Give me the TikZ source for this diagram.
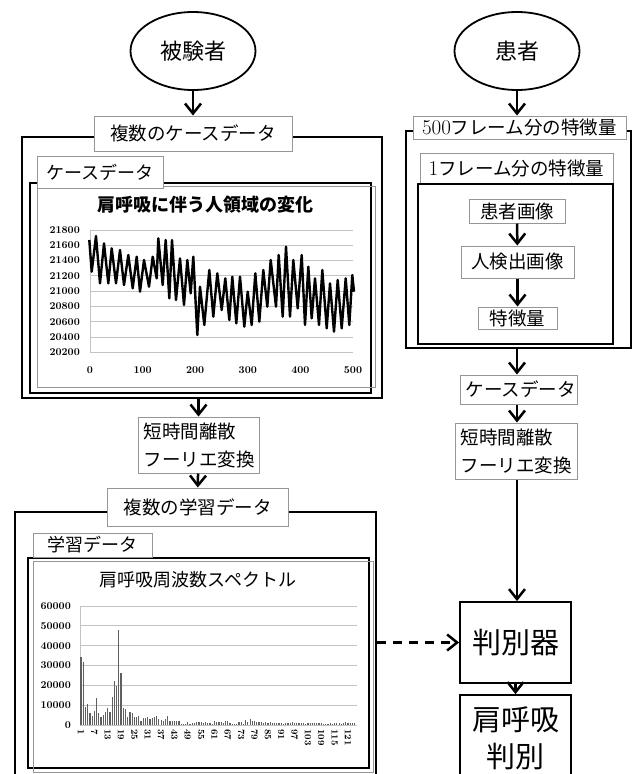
\documentclass[tikz,border=0pt]{standalone}
\usepackage{fontspec}
\usepackage{tikz}
\usetikzlibrary{arrows.meta,shapes.geometric}
\newfontfamily\jpfont{Noto Sans CJK JP}
\newcommand\jpsize[2]{\jpfont\fontsize{#1}{#2}\selectfont}
\newcommand\numsize[1]{\rmfamily\bfseries\fontsize{#1}{#1}\selectfont}
\definecolor{boxgray}{RGB}{150,150,150}
\definecolor{gridgray}{RGB}{195,195,195}
\definecolor{bargray}{RGB}{95,95,95}

\begin{document}
\begin{tikzpicture}[x=1pt,y=1pt,yscale=-1,xscale=1,
  ell/.style={ellipse, draw, line width=1.8pt, minimum width=125pt, minimum height=78pt, inner sep=0pt, font=\jpsize{22}{26}},
  lbl/.style={draw=boxgray, line width=1pt, fill=white, inner sep=0pt, font=\jpsize{18.5}{28}},
  frm/.style={draw, line width=2.5pt, inner sep=0pt},
  dec/.style={draw, line width=1.8pt, fill=white, inner sep=0pt, font=\jpsize{29}{37}},
  arr/.style={line width=2.5pt, -{Straight Barb[length=10pt,width=16pt]}},
  gridline/.style={draw=gridgray, line width=0.9pt},
  ylab/.style={anchor=east, inner sep=0pt, font=\numsize{10.5}},
  xlab/.style={anchor=center, inner sep=0pt, font=\numsize{10.5}},
  xlabr/.style={rotate=-90, anchor=west, inner sep=0pt, font=\numsize{9.5}},
  datal/.style={line width=2.4pt, line join=round},
  barl/.style={draw=bargray, line width=1.2pt}]
\useasboundingbox (0,0) rectangle (638,774);
\clip (0,0) rectangle (638,774);

%% left column
\node[ell] (subj) at (193,51) {被験者};
\node[frm, minimum width=360pt, minimum height=261pt] (caseframe) at (202,267.5) {};
\node[lbl, minimum width=198pt, minimum height=35pt] (multicase) at (193,133.5) {複数のケースデータ};

% chart: area change
\draw[line width=1.8pt] (30,183) rectangle (371,393);
\draw[draw=boxgray, line width=1pt] (37,186) rectangle (375,387);
\node[font=\jpsize{18}{20}\bfseries] (ttlA) at (205,205) {肩呼吸に伴う人領域の変化};
\foreach \k in {0,...,8}{
  \pgfmathtruncatemacro\val{218-2*\k}
  \draw[gridline] (90,230+\k*15.29) -- (353,230+\k*15.29);
  \node[ylab] (ya\k) at (80,230+\k*15.29) {\val00};
}
\draw[gridline] (90,230) -- (90,352.3);
\foreach \k in {0,...,5}{
  \pgfmathtruncatemacro\val{100*\k}
  \node[xlab] (xa\k) at (90+52.6*\k,370) {\val};
}
\draw[datal] plot coordinates {(89.3,240) (91.7,271.7) (96,236) (100,283.3) (104,243.3) (108.3,283.3)
  (111.7,248.3) (116,283.3) (120,250) (124,285) (128.3,255) (132.7,288.3) (136.7,256.7) (140,291.7)
  (144,260) (149,286.7) (152.7,256.7) (156.7,278.3) (158.3,238.3) (162.7,285) (165.7,240) (169.3,298.3)
  (172,240) (176,300) (180,258.3) (184,305) (187.3,260) (190.7,293.3) (193.3,256.7) (197.3,335)
  (200,286.7) (204.3,325) (209.3,270) (213.3,316.7) (217.3,273.3) (221.7,310) (225.3,278.3) (229.3,320)
  (232.3,276.7) (236.3,323.3) (240,276.7) (244.3,326.7) (247.7,291.7) (251.7,325) (255.3,273.3) (259.3,321.7)
  (263.3,270) (267.3,306.7) (270.7,260) (276,306.7) (278.7,255) (282.7,316.7) (286,246.7) (290,316.7)
  (293.3,260) (297.7,308.3) (301.7,255) (305,325) (308.3,266.7) (311.7,318.3) (315,278.3) (319,325)
  (322.3,270) (326.7,328.3) (330,283.3) (334,331.7) (337.7,280) (341.7,328.3) (345.7,278.3) (349.3,325)
  (352.3,275) (354,291.7)};
\node[lbl, minimum width=126pt, minimum height=32pt, font=\jpsize{18}{20}] (caselbl) at (100,172) {ケースデータ};

\node[lbl, align=left, text width=110pt, inner xsep=5.5pt, minimum height=56pt] (stftL) at (198.5,445) {短時間離散\\フーリエ変換};
\node[frm, minimum width=361pt, minimum height=278pt] (learnframe) at (195.5,651) {};
\node[lbl, minimum width=181pt, minimum height=38pt] (multilearn) at (197.5,507) {複数の学習データ};

% chart: spectrum
\draw[line width=1.8pt] (28,558) rectangle (369,768);
\draw[draw=boxgray, line width=1pt] (33,561) rectangle (373,772);
\node[font=\jpsize{18}{20}] (ttlB) at (198,580) {肩呼吸周波数スペクトル};
\foreach \k in {0,...,6}{
  \pgfmathtruncatemacro\val{6-\k}
  \draw[gridline] (80,606+\k*19.83) -- (357,606+\k*19.83);
  \node[ylab] (yb\k) at (71,606+\k*19.83) {\ifnum\val=0 0\else\val0000\fi};
}
\draw[gridline] (80,606) -- (80,725);
\foreach \v [count=\i] in {34.5,31.6,9.2,10.6,5.9,4.5,7.2,13.4,6.2,3.9,5,6.5,8.4,6.7,14.3,22.4,19.8,47.9,26.4,8.4,
  8.2,4.2,6.7,5.9,3.9,4.2,4.5,2.2,3.4,3.7,3.9,3,3.4,4.2,4.7,3,2.5,2.2,3,4.7,
  2.0,2.2,2.0,2.0,1.8,0.5,0.4,0.3,
  1.5,0.6,1.2,1.0,1.4,1.3,1.5,1.1,1.6,1.2,0.8,0.5,
  1.8,1.5,1.4,1.7,0.8,1.9,2.0,1.2,0.6,0.7,0.5,1.3,
  1.5,0.6,2.5,1.7,3.0,2.2,1.8,1.6,1.4,1.3,1.0,1.5,
  1.2,1.4,0.9,1.0,0.9,0.8,1.1,0.7,0.8,0.9,1.0,1.3,
  1.1,0.8,0.9,1.0,1.2,0.7,1.0,1.1,0.9,1.0,0.8,1.0,
  0.9,0.5,0.4,0.6,0.8,0.3,1.0,1.2,1.1,0.5,0.9,1.3,1.0,0.8,1.1,1.2}
  \draw[barl] (78.775+\i*2.225,725) -- ++(0,-\v*1.983);
\foreach \i in {1,7,...,121}
  \node[xlabr] (xb\i) at (78.775+\i*2.225,729) {\i};
\node[lbl, minimum width=119pt, minimum height=24pt, font=\jpsize{18}{20}] (learnlbl) at (92.5,545) {学習データ};

%% right column
\node[ell] (pat) at (517,51) {患者};
\node[frm, line width=2.2pt, minimum width=225pt, minimum height=217pt] (featframe) at (518.5,239.5) {};
\node[lbl, minimum width=213pt, minimum height=23pt] (frames500) at (519.5,127.5) {{\rmfamily\fontsize{21}{21}\selectfont 500}フレーム分の特徴量};
\node[lbl, minimum width=193pt, minimum height=31pt] (frame1) at (516.5,168.5) {{\rmfamily\fontsize{21}{21}\selectfont 1}フレーム分の特徴量};
\node[draw, line width=1.8pt, inner sep=0pt, minimum width=195pt, minimum height=160pt] (inframe) at (515.5,264) {};
\node[lbl, minimum width=96pt, minimum height=24pt] (patimg) at (517,211) {患者画像};
\node[lbl, minimum width=113pt, minimum height=32pt] (detimg) at (517.5,262) {人検出画像};
\node[lbl, minimum width=79pt, minimum height=22pt] (feat) at (517.5,318) {特徴量};
\node[lbl, align=left, text width=106pt, inner xsep=5.5pt, minimum height=29pt] (caseR) at (518.5,389.5) {ケースデータ};
\node[lbl, align=left, text width=111pt, inner xsep=5.5pt, minimum height=56pt] (stftR) at (516,451) {短時間離散\\フーリエ変換};
\node[dec, minimum width=111pt, minimum height=81pt] (clf) at (515.5,642.5) {判別器};
\node[dec, align=center, minimum width=111pt, minimum height=87pt] (res) at (515.5,738.5) {肩呼吸\\判別};

%% arrows
\draw[arr] (subj) -- (multicase);
\draw[arr] (caseframe.south -| stftL.north) -- (stftL);
\draw[arr] (stftL) -- (multilearn);
\draw[arr] (pat) -- (pat |- frames500.north);
\draw[arr] (patimg) -- (detimg);
\draw[arr] (detimg) -- (feat);
\draw[arr] (featframe.south -| pat) -- (pat |- caseR.north);
\draw[arr] (caseR.south -| pat) -- (pat |- stftR.north);
\draw[arr] (stftR.south -| pat) -- (pat |- clf.north);
\draw[arr] (clf) -- (res);
\draw[arr, dash pattern=on 9pt off 7pt] (clf.west -| learnframe.east) -- (clf.west);
\end{tikzpicture}
\end{document}
